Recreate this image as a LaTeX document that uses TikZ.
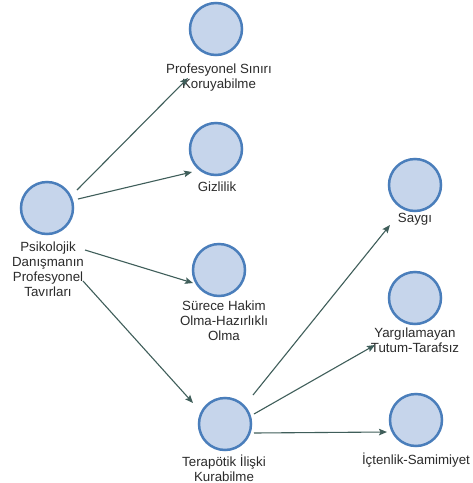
\documentclass[tikz,border=0pt]{standalone}
\usepackage{fontspec}
\setmainfont{Liberation Sans}
\usetikzlibrary{arrows.meta,calc}
\definecolor{bubblefill}{HTML}{C6D5EB}
\definecolor{bubbleline}{HTML}{4A7EBB}
\definecolor{linkcol}{HTML}{3F5E5A}
\definecolor{labelcol}{HTML}{2B2B2B}
\begin{document}
\begin{tikzpicture}[x=1pt,y=-1pt,
  bubble/.style={circle,draw=bubbleline,fill=bubblefill,line width=2.5pt,minimum size=52pt,inner sep=0pt},
  caption/.style={anchor=base,align=center,inner sep=0pt,text=labelcol,font=\fontsize{13.3}{15}\selectfont},
  link/.style={draw=linkcol,line width=1.1pt,-{Stealth[length=8pt,width=6.5pt,inset=1.5pt]}}]
\useasboundingbox[fill=white] (0,0) rectangle (473,483);

% circles
\node[bubble] (root)  at (47,208)  {};
\node[bubble] (top)   at (216,29)  {};
\node[bubble] (giz)   at (216,149) {};
\node[bubble] (sur)   at (219,270) {};
\node[bubble] (ter)   at (225,424) {};
\node[bubble] (saygi) at (415,185) {};
\node[bubble] (yargi) at (415,298) {};
\node[bubble] (icten) at (416,420) {};

% captions (anchored at the baseline of their last line)
\node[caption] (rootl)  at (48,296)  {Psikolojik\\Danışmanın\\Profesyonel\\Tavırları};
\node[caption] (topl)   at (219,88)  {Profesyonel Sınırı\\Koruyabilme};
\node[caption] (gizl)   at (217,191) {Gizlilik};
\node[caption] (surl)   at (224,340) {Sürece Hakim\\Olma-Hazırlıklı\\Olma};
\node[caption] (terl)   at (224,481) {Terapötik İlişki\\Kurabilme};
\node[caption] (saygil) at (415,222) {Saygı};
\node[caption] (yargil) at (415,352) {Yargılamayan\\Tutum-Tarafsız};
\node[caption] (intenl) at (416,464) {İçtenlik-Samimiyet};

% connectors
\draw[link] ($(root)+(30,-18)$) -- ($(top)+(-28,49)$);
\draw[link] ($(root)+(31,-9)$)  -- ($(giz)+(-24,23)$);
\draw[link] ($(root)+(38,42)$)  -- ($(sur)+(-26,13)$);
\draw[link] ($(root)+(36,73)$)  -- ($(ter)+(-32,-21)$);
\draw[link] ($(ter)+(28,-29)$)  -- ($(saygi)+(-25,40)$);
\draw[link] ($(ter)+(29,-10)$)  -- ($(yargi)+(-40,47)$);
\draw[link] ($(ter)+(29,9)$)    -- ($(icten)+(-29,12)$);
\end{tikzpicture}
\end{document}
